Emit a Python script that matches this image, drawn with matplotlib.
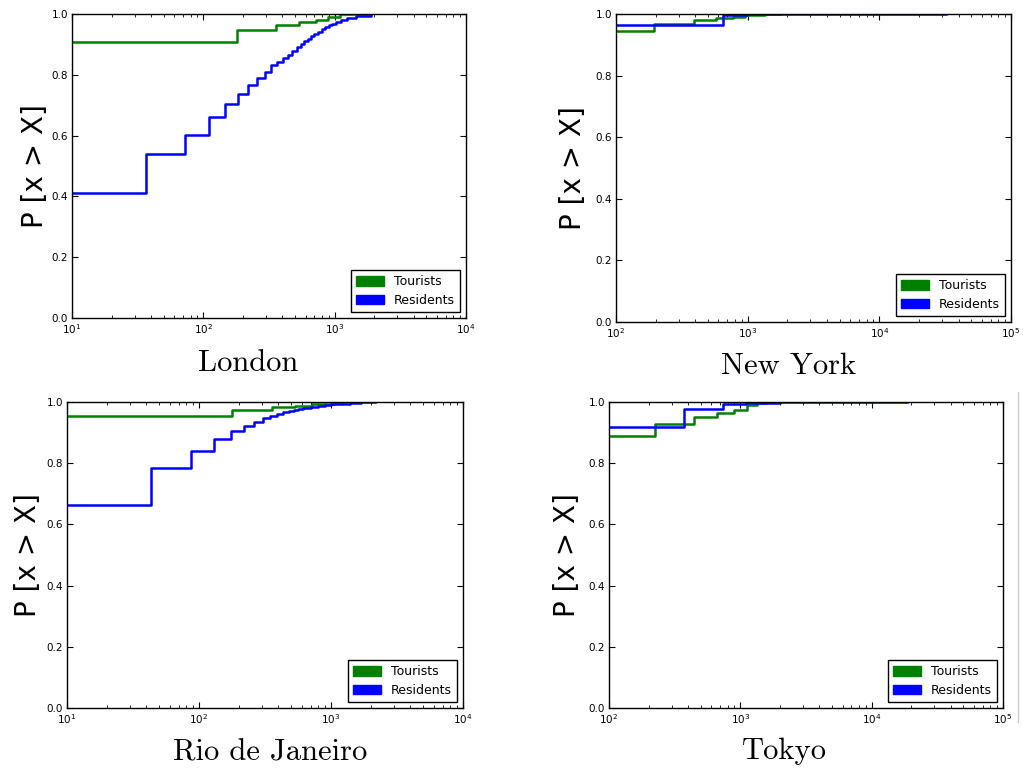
import matplotlib
matplotlib.use("Agg")
import matplotlib.pyplot as plt
from matplotlib.patches import Patch
from matplotlib.ticker import LogLocator, NullFormatter

W, H = 1023, 771

# step points: x where the CDF jumps, y the level after the jump
london_tour_x = [10, 180, 360, 537, 716, 890, 1090, 1850]
london_tour_y = [0.909, 0.947, 0.963, 0.973, 0.98, 0.99, 1.0, 1.0]
london_res_x = [10, 36.5, 73, 110, 146, 183, 220, 257, 294, 330, 366, 403, 440,
                476, 513, 550, 586, 623, 660, 700, 750, 800, 850, 900, 960,
                1030, 1120, 1250, 1450, 1900]
london_res_y = [0.41, 0.54, 0.603, 0.661, 0.703, 0.738, 0.765, 0.79, 0.81, 0.831,
                0.843, 0.855, 0.866, 0.878, 0.89, 0.90, 0.91, 0.918, 0.926,
                0.934, 0.942, 0.95, 0.957, 0.963, 0.968, 0.974, 0.98, 0.987,
                0.994, 1.0]

ny_tour_x = [100, 193, 388, 578, 772, 962, 1345, 1760]
ny_tour_y = [0.946, 0.968, 0.979, 0.986, 0.991, 0.996, 1.0, 1.0]
ny_res_x = [100, 653, 990, 32000]
ny_res_y = [0.965, 0.997, 1.0, 1.0]

rio_tour_x = [10, 179, 357, 537, 718, 1072, 1300]
rio_tour_y = [0.953, 0.973, 0.983, 0.988, 0.993, 1.0, 1.0]
rio_res_x = [10, 43.5, 87, 131, 174, 218, 261, 305, 348, 392, 435, 479, 522,
             566, 610, 700, 800, 900, 1000, 1150, 1400, 1700, 2150]
rio_res_y = [0.662, 0.783, 0.84, 0.88, 0.904, 0.922, 0.935, 0.947, 0.955, 0.961,
             0.966, 0.971, 0.975, 0.978, 0.981, 0.984, 0.987, 0.99, 0.992,
             0.995, 0.997, 0.999, 1.0]

tokyo_tour_x = [100, 223, 442, 669, 891, 1120, 1335, 1563, 1900]
tokyo_tour_y = [0.89, 0.929, 0.95, 0.963, 0.973, 0.989, 0.996, 1.0, 1.0]
tokyo_res_x = [100, 375, 743, 1107, 2010, 18500]
tokyo_res_y = [0.919, 0.976, 0.993, 0.998, 1.0, 1.0]

cities = ["London", "New York", "Rio de Janeiro", "Tokyo"]
xlims = [(1e1, 1e4), (1e2, 1e5), (1e1, 1e4), (1e2, 1e5)]

# axes boxes in pixels: left, top, right, bottom
boxes = [(72, 14, 466, 318), (616, 14, 1011, 322),
         (67, 402, 463, 708), (609, 402, 1003, 708)]
ylabel_x = [35, 573, 28, 567]
title_xy = [(248, 363), (789, 366), (270, 753), (784, 751)]


def add_axes_px(fig, box):
    l, t, r, b = box
    return fig.add_axes([l / W, 1 - b / H, (r - l) / W, (b - t) / H])


def style_axes(ax, xlim):
    ax.set_xscale("log")
    ax.set_xlim(*xlim)
    ax.set_ylim(0, 1)
    ax.set_yticks([0.0, 0.2, 0.4, 0.6, 0.8, 1.0])
    ax.xaxis.set_minor_locator(LogLocator(base=10, subs=range(2, 10)))
    ax.xaxis.set_minor_formatter(NullFormatter())
    ax.tick_params(which="both", direction="in", top=True, right=True,
                   labelsize=7.5, pad=3)
    ax.tick_params(which="major", length=4, width=0.8)
    ax.tick_params(which="minor", length=2, width=0.6)
    for s in ax.spines.values():
        s.set_linewidth(1.0)


fig = plt.figure(figsize=(W / 100, H / 100), dpi=100)
fig.patch.set_facecolor("white")

series = [
    (london_tour_x, london_tour_y, london_res_x, london_res_y),
    (ny_tour_x, ny_tour_y, ny_res_x, ny_res_y),
    (rio_tour_x, rio_tour_y, rio_res_x, rio_res_y),
    (tokyo_tour_x, tokyo_tour_y, tokyo_res_x, tokyo_res_y),
]

for i, (tx, ty, rx, ry) in enumerate(series):
    ax = add_axes_px(fig, boxes[i])
    ax.step(tx, ty, where="post", color="green", lw=1.8)
    ax.step(rx, ry, where="post", color="blue", lw=1.8)
    style_axes(ax, xlims[i])

    handles = [Patch(facecolor="green", edgecolor="green", label="Tourists"),
               Patch(facecolor="blue", edgecolor="blue", label="Residents")]
    leg = ax.legend(handles=handles, loc="lower right", fontsize=9,
                    fancybox=False, framealpha=1, handlelength=2.2,
                    handleheight=0.8, borderpad=0.4, labelspacing=0.45,
                    handletextpad=0.8, borderaxespad=0.5)
    leg.get_frame().set_edgecolor("black")
    leg.get_frame().set_linewidth(1.0)

    l, t, r, b = boxes[i]
    fig.text(ylabel_x[i] / W, 1 - ((t + b) / 2) / H, "P [x > X]",
             rotation=90, ha="center", va="center", fontsize=20)
    tx_, ty_ = title_xy[i]
    fig.text(tx_ / W, 1 - ty_ / H, cities[i], ha="center", va="center",
             fontsize=22, family="cmr10")

# thin grey rule at the right edge of the lower-right panel
fig.add_artist(plt.Line2D([1018 / W, 1018 / W], [1 - 392 / H, 1 - 722 / H],
                          color="#cccccc", lw=1))

fig.savefig("out.png", dpi=100, facecolor="white")
